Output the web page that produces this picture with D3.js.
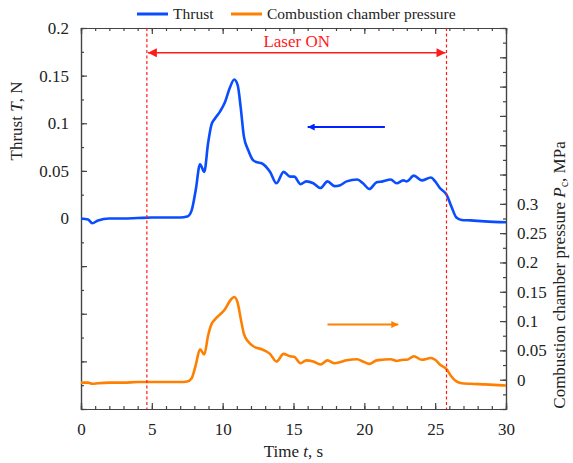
<!DOCTYPE html>
<html lang="en">
<head>
    <meta charset="UTF-8">
    <title>Thrust and chamber pressure</title>
    <script src="https://d3js.org/d3.v7.min.js"></script>
    <style>
        body { margin: 0; background: #fff; }
        svg text { font-family: "Liberation Serif", "DejaVu Serif", serif; fill: #222; }
        .axis path, .axis line { stroke: #444; stroke-width: 1.2; }
    </style>
</head>
<body>
<div id="chart"></div>
<script>
    // time, s
    const time = [0, 0.5, 0.8, 1.2, 2, 3, 4, 5, 6, 7, 7.5, 7.8, 8.1, 8.4, 8.7, 8.97, 9.2, 9.46, 9.8, 10.16,
        10.5, 10.82, 11.06, 11.27, 11.5, 11.8, 12.16, 12.44, 12.75, 13.34, 13.8, 14.3, 14.75, 15.05, 15.5, 15.9,
        16.4, 16.9, 17.4, 17.9, 18.3, 18.75, 19.5, 19.9, 20.35, 20.87, 21.3, 21.86, 22.28, 22.75, 23.0, 23.5,
        24.05, 24.7, 25.0, 25.33, 25.8, 26.16, 26.5, 26.87, 27.5, 28.5, 30];
    // thrust T, N
    const thrust = [0, -0.001, -0.005, -0.002, 0, 0, 0.0005, 0.001, 0.001, 0.001, 0.002, 0.008, 0.03, 0.057, 0.049, 0.079, 0.098, 0.105, 0.112, 0.122,
        0.137, 0.146, 0.140, 0.117, 0.086, 0.072, 0.061, 0.059, 0.058, 0.049, 0.037, 0.049, 0.044, 0.044, 0.036, 0.039,
        0.037, 0.032, 0.039, 0.034, 0.035, 0.039, 0.041, 0.037, 0.031, 0.038, 0.039, 0.041, 0.037, 0.040, 0.039, 0.045,
        0.040, 0.043, 0.039, 0.032, 0.025, 0.012, 0.001, -0.0015, -0.002, -0.003, -0.004];
    // combustion chamber pressure Pc, MPa
    const pressure = [-0.005, -0.005, -0.007, -0.006, -0.005, -0.005, -0.004, -0.004, -0.004, -0.004, -0.003, 0.002, 0.025, 0.052, 0.043, 0.075, 0.094, 0.103, 0.111, 0.120,
        0.134, 0.141, 0.131, 0.105, 0.078, 0.065, 0.057, 0.054, 0.052, 0.044, 0.031, 0.044, 0.040, 0.039, 0.028, 0.033,
        0.031, 0.026, 0.033, 0.028, 0.030, 0.033, 0.035, 0.031, 0.027, 0.033, 0.034, 0.035, 0.032, 0.034, 0.034, 0.040,
        0.034, 0.037, 0.034, 0.026, 0.018, 0.005, -0.003, -0.006, -0.007, -0.008, -0.010];

    const laserOn = [4.65, 25.8];
    const xTicks = [0, 5, 10, 15, 20, 25, 30];
    const leftTicks = [0, 0.05, 0.1, 0.15, 0.2];
    const rightTicks = [0, 0.05, 0.1, 0.15, 0.2, 0.25, 0.3];

    const W = 573, H = 463;
    const margin = { top: 28, right: 67, bottom: 54, left: 81 };
    const width = W - margin.left - margin.right;
    const height = H - margin.top - margin.bottom;
    const blue = "#0a4dff", orange = "#ff8000", red = "#ff1a1a";
    const serif = "'Liberation Serif', 'DejaVu Serif', serif";

    const svg = d3.select("#chart").append("svg")
        .attr("width", W).attr("height", H);

    const defs = svg.append("defs");
    function marker(id, color, w, h) {
        defs.append("marker")
            .attr("id", id)
            .attr("viewBox", "0 0 10 10")
            .attr("refX", 10).attr("refY", 5)
            .attr("markerUnits", "userSpaceOnUse")
            .attr("markerWidth", w).attr("markerHeight", h)
            .attr("orient", "auto-start-reverse")
            .append("path").attr("d", "M0,0L10,5L0,10z").attr("fill", color);
    }
    marker("arRed", red, 13, 9);
    marker("arBlue", "#0022ff", 12, 7);
    marker("arOrange", orange, 12, 7);

    const g = svg.append("g").attr("transform", `translate(${margin.left},${margin.top})`);

    const x = d3.scaleLinear().domain([0, 30]).range([0, width]);
    const yL = d3.scaleLinear().domain([-0.2, 0.2]).range([height, 0]);
    const yR = d3.scaleLinear().domain([-0.05, 0.6]).range([height, 0]);

    const fmt = d => d < -1e-9 ? "" : String(+d.toFixed(2));
    const rng = (a, b, s) => d3.range(Math.round((b - a) / s) + 1).map(i => +(a + i * s).toFixed(4));

    // minor ticks
    g.append("g").attr("class", "axis").attr("transform", `translate(0,${height})`)
        .call(d3.axisBottom(x).tickValues(rng(0, 30, 1)).tickSize(-3).tickFormat(""));
    g.append("g").attr("class", "axis")
        .call(d3.axisTop(x).tickValues(rng(0, 30, 1)).tickSize(-3).tickFormat(""));
    g.append("g").attr("class", "axis")
        .call(d3.axisLeft(yL).tickValues(rng(-0.2, 0.2, 0.025)).tickSize(-3).tickFormat(""));
    g.append("g").attr("class", "axis").attr("transform", `translate(${width},0)`)
        .call(d3.axisRight(yR).tickValues(rng(-0.05, 0.6, 0.025)).tickSize(-3).tickFormat(""));

    // major ticks + labels
    g.append("g").attr("class", "axis").attr("transform", `translate(0,${height})`)
        .call(d3.axisBottom(x).tickValues(xTicks).tickSize(-6).tickPadding(14).tickFormat(d3.format("d")));
    g.append("g").attr("class", "axis")
        .call(d3.axisTop(x).tickValues(xTicks).tickSize(-6).tickFormat(""));
    g.append("g").attr("class", "axis")
        .call(d3.axisLeft(yL).tickValues(rng(-0.2, 0.2, 0.05)).tickSize(-6).tickPadding(12)
            .tickFormat(d => leftTicks.some(v => Math.abs(v - d) < 1e-9) ? fmt(d) : ""));
    g.append("g").attr("class", "axis").attr("transform", `translate(${width},0)`)
        .call(d3.axisRight(yR).tickValues(rng(-0.05, 0.6, 0.05)).tickSize(-6).tickPadding(11)
            .tickFormat(d => rightTicks.some(v => Math.abs(v - d) < 1e-9) ? fmt(d) : ""));
    g.selectAll(".axis").attr("font-family", serif).attr("font-size", 17);
    g.selectAll(".axis text").style("fill", "#222").style("font-size", "17px");

    // curves
    const thrustLine = d3.line().x((d, i) => x(time[i])).y(d => yL(d)).curve(d3.curveMonotoneX);
    const presLine = d3.line().x((d, i) => x(time[i])).y(d => yR(d)).curve(d3.curveMonotoneX);
    g.append("path").datum(pressure).attr("d", presLine)
        .attr("fill", "none").attr("stroke", orange).attr("stroke-width", 2.6).attr("stroke-linejoin", "round");
    g.append("path").datum(thrust).attr("d", thrustLine)
        .attr("fill", "none").attr("stroke", blue).attr("stroke-width", 2.6).attr("stroke-linejoin", "round");

    // laser on markers
    g.selectAll(".laser").data(laserOn).enter().append("line")
        .attr("x1", d => x(d)).attr("x2", d => x(d))
        .attr("y1", 0).attr("y2", height)
        .attr("stroke", red).attr("stroke-width", 1.2).attr("stroke-dasharray", "3,2.5");
    g.append("line")
        .attr("x1", x(laserOn[0]) + 1).attr("x2", x(laserOn[1]) - 1)
        .attr("y1", yL(0.174)).attr("y2", yL(0.174))
        .attr("stroke", red).attr("stroke-width", 1.5)
        .attr("marker-start", "url(#arRed)").attr("marker-end", "url(#arRed)");
    g.append("text")
        .attr("x", x((laserOn[0] + laserOn[1]) / 2)).attr("y", yL(0.174) - 6)
        .attr("text-anchor", "middle").style("font-size", "17px").style("fill", red)
        .text("Laser ON");

    // axis direction arrows
    g.append("line")
        .attr("x1", x(21.45)).attr("x2", x(16.0))
        .attr("y1", yL(0.096)).attr("y2", yL(0.096))
        .attr("stroke", "#0022ff").attr("stroke-width", 2).attr("marker-end", "url(#arBlue)");
    g.append("line")
        .attr("x1", x(17.4)).attr("x2", x(22.4))
        .attr("y1", yR(0.094)).attr("y2", yR(0.094))
        .attr("stroke", orange).attr("stroke-width", 2).attr("marker-end", "url(#arOrange)");

    // legend
    const legend = svg.append("g").attr("transform", "translate(0,14)");
    const items = [["Thrust", blue, 137], ["Combustion chamber pressure", orange, 231]];
    items.forEach(([label, color, lx]) => {
        legend.append("line").attr("x1", lx).attr("x2", lx + 31).attr("y1", 0).attr("y2", 0)
            .attr("stroke", color).attr("stroke-width", 3);
        legend.append("text").attr("x", lx + 36).attr("y", 5).style("font-size", "15.5px").text(label);
    });

    // axis titles
    const xt = svg.append("text").attr("x", margin.left + width / 2).attr("y", 457)
        .attr("text-anchor", "middle").style("font-size", "17px");
    xt.append("tspan").text("Time ");
    xt.append("tspan").style("font-style", "italic").text("t");
    xt.append("tspan").text(", s");

    const yt = svg.append("text").attr("transform", "translate(22,121) rotate(-90)")
        .attr("text-anchor", "middle").style("font-size", "17px");
    yt.append("tspan").text("Thrust ");
    yt.append("tspan").style("font-style", "italic").text("T");
    yt.append("tspan").text(", N");

    const rt = svg.append("text").attr("transform", "translate(565,275) rotate(-90)")
        .attr("text-anchor", "middle").style("font-size", "17px");
    rt.append("tspan").text("Combustion chamber pressure ");
    rt.append("tspan").style("font-style", "italic").text("P");
    rt.append("tspan").attr("dy", 3).style("font-size", "12px").text("c");
    rt.append("tspan").attr("dy", -3).text(", MPa");
</script>
</body>
</html>
